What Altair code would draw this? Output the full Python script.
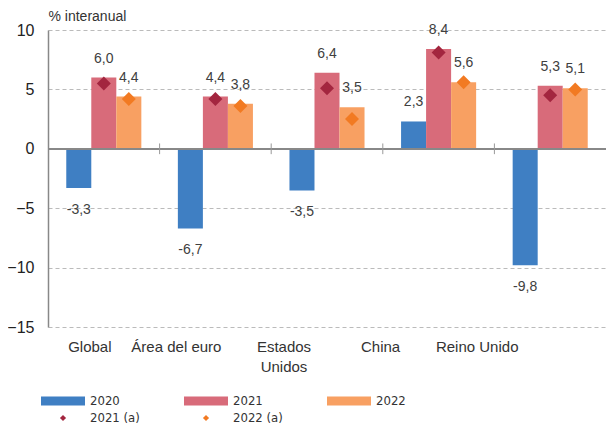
import altair as alt
import pandas as pd

paises = ["Global", "Área del euro", "Estados Unidos", "China", "Reino Unido"]
anios = ["2020", "2021", "2022"]
v2020 = [-3.3, -6.7, -3.5, 2.3, -9.8]
v2021 = [6.0, 4.4, 6.4, 8.4, 5.3]
v2022 = [4.4, 3.8, 3.5, 5.6, 5.1]
a2021 = [5.5, 4.2, 5.1, 8.1, 4.5]
a2022 = [4.2, 3.6, 2.5, 5.6, 5.0]
series_a = ["2021 (a)", "2022 (a)"]

rows = []
for i, p in enumerate(paises):
    for a, vals in zip(anios, [v2020, v2021, v2022]):
        rows.append({"pais": p, "anio": a, "valor": vals[i],
                     "etiqueta": f"{vals[i]:.1f}".replace(".", ",")})
bars_df = pd.DataFrame(rows)

prow = []
for i, p in enumerate(paises):
    prow.append({"pais": p, "anio": "2021", "serie": series_a[0], "valor": a2021[i]})
    prow.append({"pais": p, "anio": "2022", "serie": series_a[1], "valor": a2022[i]})
pts_df = pd.DataFrame(prow)

ticks_df = pd.DataFrame({"pais": paises[1:]})

FONT = "Liberation Sans"
NARROW = "'Liberation Sans Narrow', 'Arial Narrow', 'DejaVu Sans Condensed', 'Liberation Sans', sans-serif"

xscale = alt.Scale(domain=paises, paddingInner=0, paddingOuter=0)
xaxis = alt.Axis(
    title=None, domain=False, ticks=False, grid=False, labelAngle=0,
    labelPadding=12, labelBaseline="top", labelFont=FONT, labelFontSize=15,
    labelColor="#333333", labelLineHeight=20, labelOverlap=False,
    labelExpr="datum.value == 'Estados Unidos' ? ['Estados', 'Unidos'] : datum.value",
    labelOffset=alt.ExprRef(expr=(
        "datum.value == 'Global' ? -14 : datum.value == 'China' ? -58 : "
        "datum.value == 'Reino Unido' ? -73 : datum.value == 'Estados Unidos' ? -43 : -39"
    )),
)
yscale = alt.Scale(domain=[-15, 10], nice=False, zero=False)
yaxis = alt.Axis(
    values=[-15, -10, -5, 0, 5, 10], title="% interanual", titleAngle=0,
    titleAlign="left", titleBaseline="alphabetic", titleX=0, titleY=-10,
    titleFont=FONT, titleFontSize=14, titleFontWeight="normal", titleColor="#333333",
    labelFont=FONT, labelFontSize=16, labelColor="#222222", labelPadding=14,
    ticks=False, domainColor="#888888", domainWidth=1.5,
    grid=True, gridColor="#bbbbbb", gridDash=[4, 3], gridWidth=1,
)

X = alt.X("pais:N", sort=paises, scale=xscale, axis=xaxis)
XO = alt.XOffset("anio:N", sort=anios,
                 scale=alt.Scale(domain=anios, paddingInner=0, paddingOuter=0.73))
Y = alt.Y("valor:Q", scale=yscale, axis=yaxis)

bars = alt.Chart(bars_df).mark_bar().encode(
    x=X, xOffset=XO, y=Y, y2=alt.Y2(datum=0),
    color=alt.Color("anio:N", sort=anios,
                    scale=alt.Scale(domain=anios, range=["#3f7fc3", "#d86b7a", "#f8a062"]),
                    legend=alt.Legend(
                        title=None, orient="none", legendX=-7, legendY=349,
                        direction="horizontal", columns=3, columnPadding=64,
                        symbolType="M-1,-0.2L1,-0.2L1,0.2L-1,0.2Z", symbolSize=1936,
                        symbolStrokeWidth=0, labelFont=NARROW, labelFontSize=13,
                        labelColor="#333333", labelOffset=5)),
)

zero = alt.Chart(bars_df).mark_rule(color="#888888", strokeWidth=1.5).encode(
    y=alt.Y(datum=0, scale=yscale, axis=yaxis)
)

ticks = alt.Chart(ticks_df).mark_rule(color="#999999", strokeWidth=1).encode(
    x=alt.X("pais:N", sort=paises, scale=xscale, axis=xaxis, bandPosition=0),
    y=alt.Y(datum=-0.45, scale=yscale, axis=yaxis),
    y2=alt.Y2(datum=0.45),
)

lab_pos = alt.Chart(bars_df).transform_filter("datum.valor >= 0").mark_text(
    dy=-15, baseline="alphabetic", font=FONT, fontSize=14, color="#404040"
).encode(x=X, xOffset=XO, y=Y, text="etiqueta:N")

lab_neg = alt.Chart(bars_df).transform_filter("datum.valor < 0").mark_text(
    dy=26, baseline="alphabetic", font=FONT, fontSize=14, color="#404040"
).encode(x=X, xOffset=XO, y=Y, text="etiqueta:N")

pts = alt.Chart(pts_df).mark_point(shape="diamond", filled=True, size=196, opacity=1).encode(
    x=X, xOffset=XO, y=Y,
    fill=alt.Fill("serie:N", sort=series_a,
                  scale=alt.Scale(domain=series_a, range=["#a3263f", "#f27a22"]),
                  legend=alt.Legend(
                      title=None, orient="none", legendX=-7, legendY=366,
                      direction="horizontal", columns=2, columnPadding=44,
                      symbolType="M0,-0.14L0.14,0L0,0.14L-0.14,0Z", symbolSize=1936,
                      symbolStrokeWidth=0, labelFont=NARROW, labelFontSize=13,
                      labelColor="#333333", labelOffset=5)),
)

chart = alt.layer(bars, zero, ticks, lab_pos, lab_neg, pts).properties(
    width=558, height=297,
    padding={"left": 40, "top": 22, "right": 0, "bottom": 101},
    autosize="none", background="white",
).configure_view(stroke=None)

chart.save("out.html", embed_options={"renderer": "svg", "actions": False})
